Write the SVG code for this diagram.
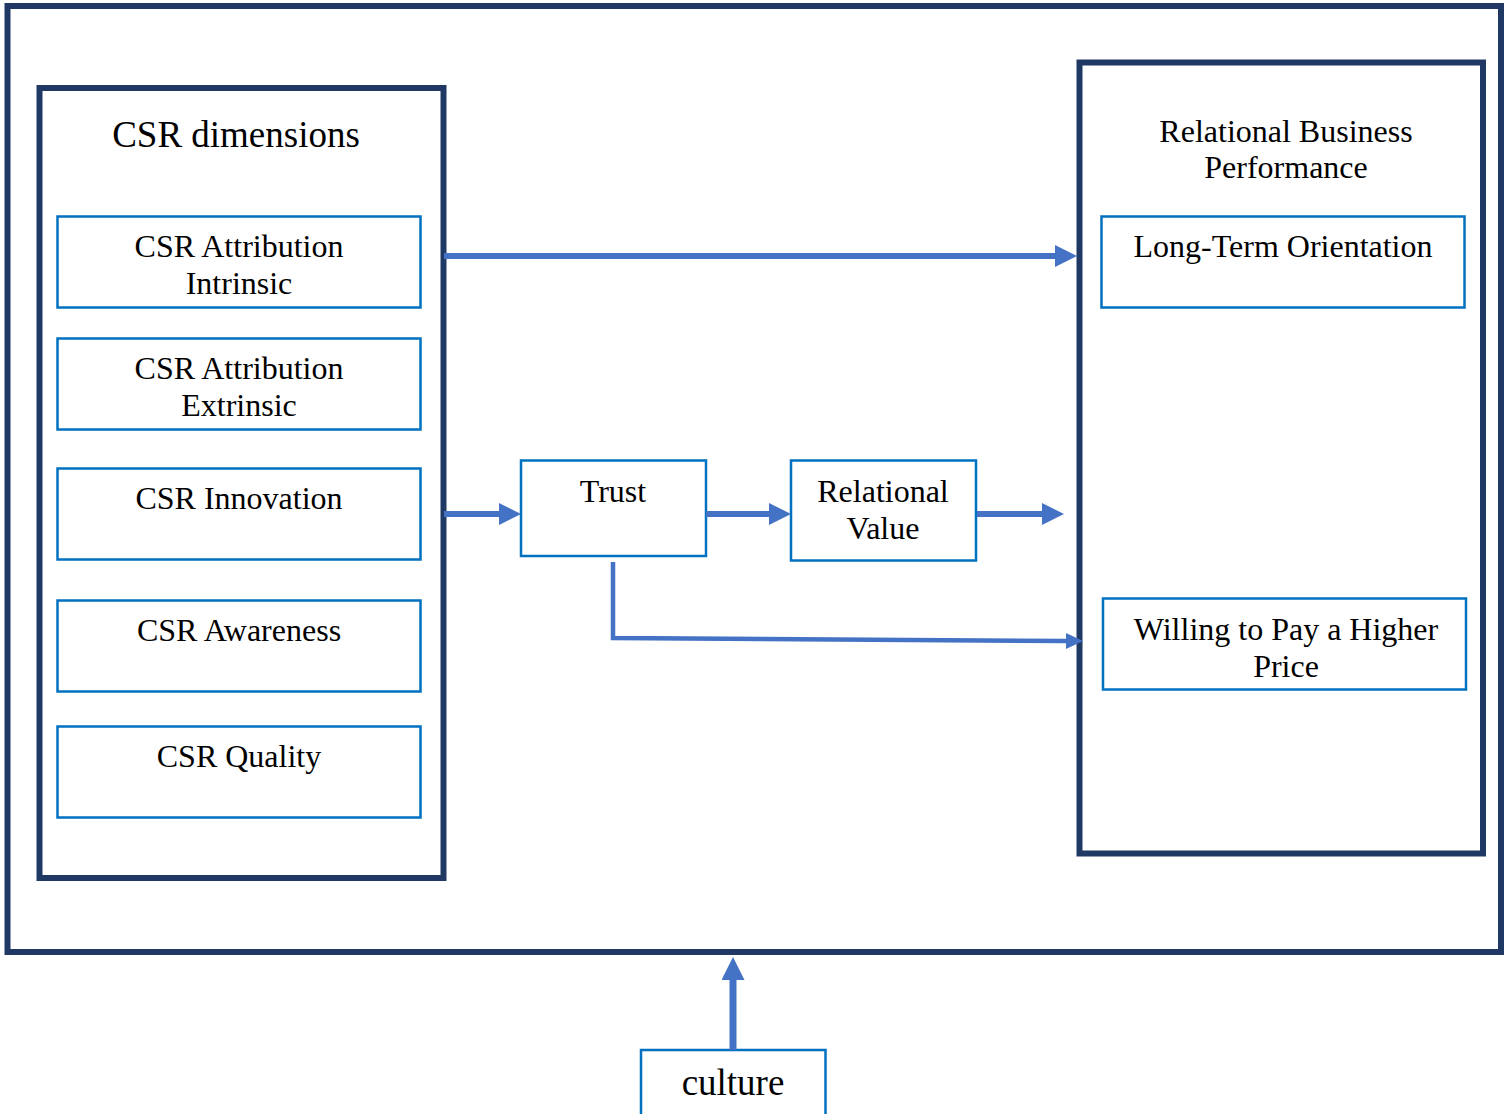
<svg xmlns="http://www.w3.org/2000/svg" width="1511" height="1114" viewBox="0 0 1511 1114">
<style>
.frame{fill:#fff;stroke:#203864;stroke-width:6}
.box{fill:#fff;stroke:#0070c0;stroke-width:2.5}
.t{font-family:"Liberation Serif","Times New Roman",serif;fill:#000;text-anchor:middle;font-size:32px}
.conn{fill:none;stroke:#4472c4}
</style>
<defs>
<marker id="ah" markerUnits="userSpaceOnUse" markerWidth="23" markerHeight="23" refX="0" refY="11" orient="auto"><path d="M0,0 L22,11 L0,22 z" fill="#4472c4"/></marker>
<marker id="ahs" markerUnits="userSpaceOnUse" markerWidth="18" markerHeight="18" refX="0" refY="8" orient="auto"><path d="M0,0 L17,8 L0,16 z" fill="#4472c4"/></marker>
<marker id="ahc" markerUnits="userSpaceOnUse" markerWidth="24" markerHeight="24" refX="0" refY="11.5" orient="auto"><path d="M0,0 L23,11.5 L0,23 z" fill="#4472c4"/></marker>
</defs>
<rect width="1511" height="1114" fill="#fff"/>
<g id="context">
<rect class="frame" x="7.5" y="6" width="1493.5" height="946"/>
</g>
<g id="csr-dimensions">
<rect class="frame" x="39.5" y="88" width="404" height="790"/>
<text class="t" x="236" y="147" style="font-size:37px">CSR dimensions</text>
</g>
<g id="csr-intrinsic">
<rect class="box" x="57.5" y="216.5" width="363" height="91"/>
<text class="t" x="239" y="257">CSR Attribution</text>
<text class="t" x="239" y="294">Intrinsic</text>
</g>
<g id="csr-extrinsic">
<rect class="box" x="57.5" y="338.5" width="363" height="91"/>
<text class="t" x="239" y="379">CSR Attribution</text>
<text class="t" x="239" y="416">Extrinsic</text>
</g>
<g id="csr-innovation">
<rect class="box" x="57.5" y="468.5" width="363" height="91"/>
<text class="t" x="239" y="509">CSR Innovation</text>
</g>
<g id="csr-awareness">
<rect class="box" x="57.5" y="600.5" width="363" height="91"/>
<text class="t" x="239" y="641">CSR Awareness</text>
</g>
<g id="csr-quality">
<rect class="box" x="57.5" y="726.5" width="363" height="91"/>
<text class="t" x="239" y="767">CSR Quality</text>
</g>
<g id="rbp">
<rect class="frame" x="1079.5" y="62.5" width="403.5" height="791"/>
<text class="t" x="1286" y="142">Relational Business</text>
<text class="t" x="1286" y="178">Performance</text>
</g>
<g id="long-term">
<rect class="box" x="1101.5" y="216.5" width="363" height="91"/>
<text class="t" x="1283" y="257">Long-Term Orientation</text>
</g>
<g id="willing">
<rect class="box" x="1103" y="598.5" width="363" height="91"/>
<text class="t" x="1286" y="640">Willing to Pay a Higher</text>
<text class="t" x="1286" y="677">Price</text>
</g>
<g id="trust">
<rect class="box" x="521" y="460.5" width="185" height="95.5"/>
<text class="t" x="613" y="502">Trust</text>
</g>
<g id="relational-value">
<rect class="box" x="791" y="460.5" width="185" height="100"/>
<text class="t" x="883" y="502">Relational</text>
<text class="t" x="883" y="539">Value</text>
</g>
<g id="culture">
<rect class="box" x="641" y="1050" width="184.5" height="80"/>
<text class="t" x="733" y="1095" style="font-size:37px">culture</text>
</g>
<g id="connectors">
<line class="conn" stroke-width="6" x1="444" y1="256" x2="1055" y2="256" marker-end="url(#ah)"/>
<line class="conn" stroke-width="6" x1="444" y1="514" x2="499" y2="514" marker-end="url(#ah)"/>
<line class="conn" stroke-width="6" x1="706" y1="514" x2="769" y2="514" marker-end="url(#ah)"/>
<line class="conn" stroke-width="6" x1="977" y1="514" x2="1042" y2="514" marker-end="url(#ah)"/>
<polyline class="conn" stroke-width="4.5" points="613,562 613,638 1066,641" marker-end="url(#ahs)"/>
<line class="conn" stroke-width="7" x1="733" y1="1050" x2="733" y2="980" marker-end="url(#ahc)"/>
</g>
</svg>
